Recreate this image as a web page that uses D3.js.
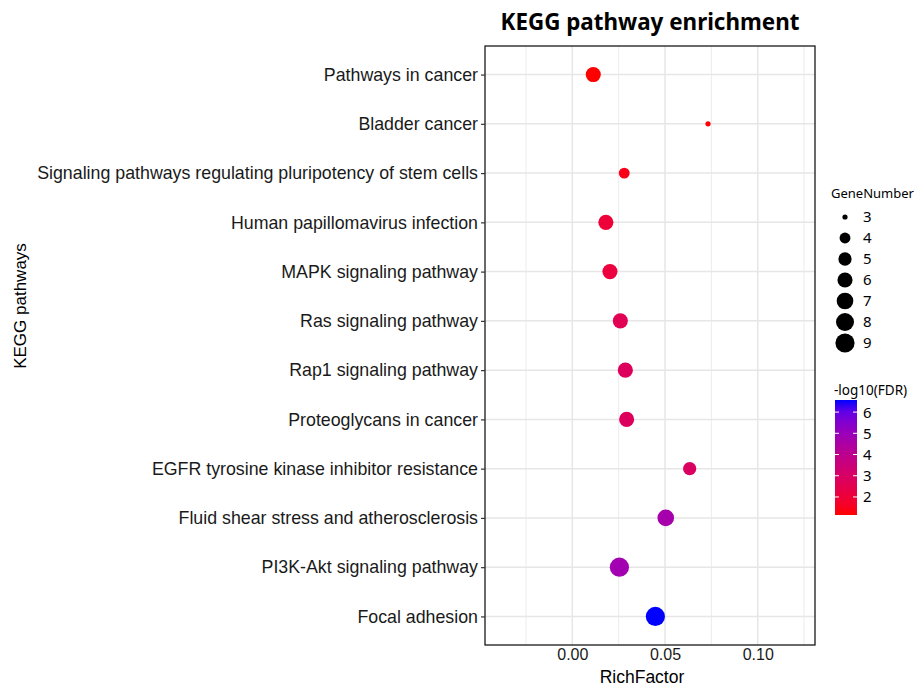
<!DOCTYPE html>
<html>
<head>
<meta charset="utf-8">
<script src="https://d3js.org/d3.v7.min.js"></script>
<style>
  body { margin: 0; background: #fff; }
  svg { display: block; }
</style>
</head>
<body>
<svg id="chart" width="919" height="687"></svg>
<script>
// ---- data (top to bottom as in the chart) ----
var pathways = [
  "Pathways in cancer",
  "Bladder cancer",
  "Signaling pathways regulating pluripotency of stem cells",
  "Human papillomavirus infection",
  "MAPK signaling pathway",
  "Ras signaling pathway",
  "Rap1 signaling pathway",
  "Proteoglycans in cancer",
  "EGFR tyrosine kinase inhibitor resistance",
  "Fluid shear stress and atherosclerosis",
  "PI3K-Akt signaling pathway",
  "Focal adhesion"
];
var richFactor  = [0.0113, 0.0732, 0.0280, 0.0181, 0.0203, 0.0259, 0.0286, 0.0293, 0.0633, 0.0504, 0.0254, 0.0448];
var geneNumber  = [6, 3, 4, 6, 6, 6, 6, 6, 5, 7, 9, 9];
var negLogFDR   = [1.15, 1.2, 1.4, 2.0, 2.1, 2.6, 2.8, 2.8, 2.9, 4.7, 4.8, 6.57];

var xTicks      = [0, 0.05, 0.10];
var xMinorTicks = [-0.025, 0.025, 0.075, 0.125];
var sizeBreaks  = [3, 4, 5, 6, 7, 8, 9];
var colorBreaks = [2, 3, 4, 5, 6];

var svg = d3.select("#chart");

var panel = {left: 485, right: 815, top: 46, bottom: 645};

var x = d3.scaleLinear().domain([-0.0471, 0.1309]).range([panel.left, panel.right]);
var y = d3.scalePoint().domain(pathways).range([panel.top, panel.bottom]).padding(0.58);

// ggplot-like area size scale -> point diameter in px
var sizeScale = d3.scaleSqrt().domain([0, 6]).range([1, 6]);
function radius(v) { return (2.4 + 2.8 * sizeScale(v - 3)) / 2; }

var color = d3.scaleLinear().domain([1.15, 6.57]).range(["#ff0000", "#0000ff"])
  .interpolate(d3.interpolateLab);

var rows = pathways.map(function(p, i) {
  return {name: p, rf: richFactor[i], n: geneNumber[i], fdr: negLogFDR[i]};
});

// ---- panel background + grid ----
svg.append("rect")
  .attr("x", panel.left).attr("y", panel.top)
  .attr("width", panel.right - panel.left).attr("height", panel.bottom - panel.top)
  .attr("fill", "#fff");

svg.append("g").selectAll("line").data(xMinorTicks).enter().append("line")
  .attr("x1", function(d) { return x(d); }).attr("x2", function(d) { return x(d); })
  .attr("y1", panel.top).attr("y2", panel.bottom)
  .attr("stroke", "#ececec").attr("stroke-width", 1);

svg.append("g").selectAll("line").data(xTicks).enter().append("line")
  .attr("x1", function(d) { return x(d); }).attr("x2", function(d) { return x(d); })
  .attr("y1", panel.top).attr("y2", panel.bottom)
  .attr("stroke", "#e6e6e6").attr("stroke-width", 1.5);

svg.append("g").selectAll("line").data(pathways).enter().append("line")
  .attr("x1", panel.left).attr("x2", panel.right)
  .attr("y1", function(d) { return y(d); }).attr("y2", function(d) { return y(d); })
  .attr("stroke", "#e6e6e6").attr("stroke-width", 1.5);

// ---- points ----
svg.append("g").selectAll("circle").data(rows).enter().append("circle")
  .attr("cx", function(d) { return x(d.rf); })
  .attr("cy", function(d) { return y(d.name); })
  .attr("r", function(d) { return radius(d.n); })
  .attr("fill", function(d) { return color(d.fdr); });

// ---- border ----
svg.append("rect")
  .attr("x", panel.left).attr("y", panel.top)
  .attr("width", panel.right - panel.left).attr("height", panel.bottom - panel.top)
  .attr("fill", "none").attr("stroke", "#1a1a1a").attr("stroke-width", 1.3);

// ---- y axis ----
var yAxis = d3.axisLeft(y).tickSize(4).tickPadding(3);
var gy = svg.append("g").attr("transform", "translate(" + panel.left + ",0)").call(yAxis);
gy.select(".domain").remove();
gy.selectAll(".tick line").attr("stroke", "#333").attr("stroke-width", 1.2);
gy.selectAll(".tick text")
  .attr("font-family", "'Liberation Sans', Arial, sans-serif")
  .attr("font-size", "17.8px").attr("fill", "#1a1a1a");

// ---- x axis ----
var xAxis = d3.axisBottom(x).tickValues(xTicks).tickFormat(d3.format(".2f")).tickSize(0).tickPadding(4);
var gx = svg.append("g").attr("transform", "translate(0," + panel.bottom + ")").call(xAxis);
gx.select(".domain").remove();
gx.selectAll(".tick text")
  .attr("font-family", "'Liberation Sans', Arial, sans-serif")
  .attr("font-size", "16px").attr("fill", "#1a1a1a");

// ---- titles ----
svg.append("text")
  .attr("x", 650).attr("y", 30).attr("text-anchor", "middle")
  .attr("font-family", "'Noto Sans', sans-serif").attr("font-weight", "bold")
  .attr("font-size", "22.4px").attr("fill", "#000")
  .text("KEGG pathway enrichment");

svg.append("text")
  .attr("x", 642).attr("y", 683).attr("text-anchor", "middle")
  .attr("font-family", "'Liberation Sans', Arial, sans-serif")
  .attr("font-size", "17.5px").attr("fill", "#000")
  .text("RichFactor");

svg.append("text")
  .attr("transform", "translate(26,306) rotate(-90)").attr("text-anchor", "middle")
  .attr("font-family", "'Liberation Sans', Arial, sans-serif")
  .attr("font-size", "17px").attr("fill", "#000")
  .text("KEGG pathways");

// ---- size legend ----
var legFont = "'Noto Sans', sans-serif";
svg.append("text").attr("x", 831).attr("y", 198)
  .attr("font-family", legFont).attr("font-size", "13px").text("GeneNumber");

var sizeLeg = svg.append("g").selectAll("g").data(sizeBreaks).enter().append("g")
  .attr("transform", function(d, i) { return "translate(845," + (217 + i * 21) + ")"; });
sizeLeg.append("circle").attr("r", function(d) { return radius(d); }).attr("fill", "#000");
sizeLeg.append("text").attr("x", 18).attr("dy", "0.36em")
  .attr("font-family", legFont).attr("font-size", "15px").text(function(d) { return d; });

// ---- colour legend ----
svg.append("text").attr("x", 834).attr("y", 395)
  .attr("font-family", legFont).attr("font-size", "13.5px").text("-log10(FDR)");

var barX = 835, barW = 22, barTop = 400, barBot = 515;
var cy = d3.scaleLinear().domain(color.domain()).range([barBot, barTop]);

var defs = svg.append("defs");
var grad = defs.append("linearGradient").attr("id", "fdrGrad")
  .attr("x1", 0).attr("y1", 1).attr("x2", 0).attr("y2", 0);
d3.range(0, 1.0001, 0.1).forEach(function(t) {
  var v = color.domain()[0] + t * (color.domain()[1] - color.domain()[0]);
  grad.append("stop").attr("offset", t).attr("stop-color", color(v));
});
svg.append("rect").attr("x", barX).attr("y", barTop)
  .attr("width", barW).attr("height", barBot - barTop)
  .attr("fill", "url(#fdrGrad)");

var cTicks = svg.append("g").selectAll("g").data(colorBreaks).enter().append("g")
  .attr("transform", function(d) { return "translate(0," + cy(d) + ")"; });
cTicks.append("line").attr("x1", barX).attr("x2", barX + 4).attr("stroke", "#fff").attr("stroke-width", 1);
cTicks.append("line").attr("x1", barX + barW - 4).attr("x2", barX + barW).attr("stroke", "#fff").attr("stroke-width", 1);
cTicks.append("text").attr("x", barX + barW + 6).attr("dy", "0.36em")
  .attr("font-family", legFont).attr("font-size", "15px").text(function(d) { return d; });
</script>
</body>
</html>
